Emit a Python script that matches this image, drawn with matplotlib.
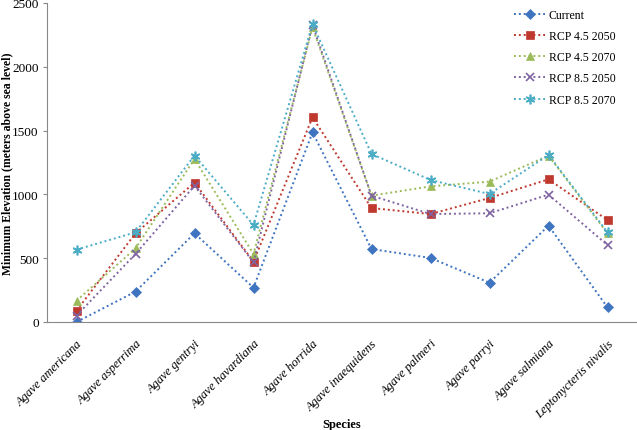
import matplotlib
matplotlib.use("Agg")
import matplotlib.pyplot as plt

species = ["Agave americana", "Agave asperrima", "Agave gentryi", "Agave havardiana",
           "Agave horrida", "Agave inaequidens", "Agave palmeri", "Agave parryi",
           "Agave salmiana", "Leptonycteris nivalis"]

current = [0, 238, 695, 269, 1486, 572, 502, 308, 755, 115]
rcp45_2050 = [89, 695, 1092, 473, 1604, 893, 846, 972, 1118, 799]
rcp45_2070 = [167, 577, 1277, 533, 2309, 990, 1063, 1100, 1304, 695]
rcp85_2050 = [50, 533, 1068, 468, 2328, 990, 846, 852, 998, 603]
rcp85_2070 = [567, 703, 1304, 760, 2335, 1317, 1113, 1003, 1309, 703]

series = [
    ("Current", current, "#3F74C0", "D", 5),
    ("RCP 4.5 2050", rcp45_2050, "#C0392F", "s", 6),
    ("RCP 4.5 2070", rcp45_2070, "#9BBB59", "^", 6),
    ("RCP 8.5 2050", rcp85_2050, "#8064A2", "x", 6),
    ("RCP 8.5 2070", rcp85_2070, "#4BACC6", (6, 2, 0), 7),
]

plt.rcParams["font.family"] = ["Liberation Serif", "DejaVu Serif"]

fig = plt.figure(figsize=(6.37, 4.31), dpi=100)
left, bottom, top = 47, 323, 4
ax = fig.add_axes([left / 637, 1 - bottom / 431, 1 - left / 637, (bottom - top) / 431])

x = list(range(len(species)))
for name, vals, color, marker, ms in series:
    thin = marker in ("x", (6, 2, 0))
    ax.plot(x, vals, linestyle=(0, (1, 1.5)), linewidth=1.4, color=color,
            marker=marker, markersize=ms, markeredgewidth=1.2 if thin else 0.5,
            markeredgecolor=color, label=name)

ax.set_xlim(-0.5, len(species) - 0.5)
ax.set_ylim(0, 2500)
ax.set_yticks(range(0, 2501, 500))
ax.set_xticks(x)
ax.set_xticklabels(species, rotation=45, ha="right", rotation_mode="anchor",
                   fontstyle="italic", fontsize=9)
ax.tick_params(axis="y", labelsize=9.5, length=3, color="#888888", pad=3)
ax.tick_params(axis="x", length=0, pad=11)

for side in ("top", "right"):
    ax.spines[side].set_visible(False)
for side in ("left", "bottom"):
    ax.spines[side].set_color("#888888")

ax.set_ylabel("Minimum Elevation (meters above sea level)", fontweight="bold", fontsize=8.5)
ax.yaxis.set_label_coords((7.5 - left) / 590, 0.5)
ax.yaxis.label.set_va("center")
ax.set_xlabel("Species", fontweight="bold", fontsize=9)
ax.xaxis.set_label_coords(0.5, (bottom - 425) / (bottom - top))
ax.xaxis.label.set_va("center")

ax.legend(loc="upper right", bbox_to_anchor=((626 - left) / 590, 1.015), frameon=False,
          fontsize=8.5, handlelength=2.6, labelspacing=0.78, handletextpad=0.3)

fig.savefig("out.png", dpi=100)
